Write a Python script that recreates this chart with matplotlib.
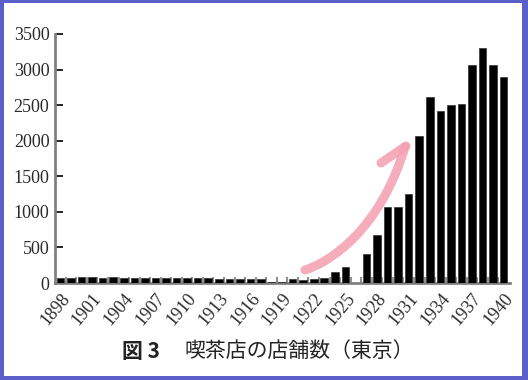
import matplotlib
matplotlib.use("Agg")
import matplotlib.pyplot as plt
from matplotlib.path import Path
from matplotlib.patches import PathPatch, Rectangle

years = list(range(1898, 1941))
counts = [70, 75, 80, 80, 70, 80, 75, 70, 70, 70,
          65, 65, 70, 70, 65, 55, 55, 55, 55, 50,
          15, 10, 50, 45, 52, 66, 159, 229, 0, 408,
          675, 1073, 1073, 1252, 2070, 2621, 2420, 2500, 2514, 3070,
          3302, 3070, 2889]
yticks = [0, 500, 1000, 1500, 2000, 2500, 3000, 3500]
title_fig = "図 3"
title_text = "喫茶店の店舗数（東京）"

W, H = 528, 380
fig = plt.figure(figsize=(W / 100, H / 100), dpi=100)
fig.patch.set_facecolor("#5b5fc9")
fig.add_artist(Rectangle((4 / W, 1 - 376 / H), (522 - 4) / W, (376 - 3) / H,
                         transform=fig.transFigure, facecolor="white",
                         edgecolor="none", zorder=0))

ax = fig.add_axes([55 / W, 1 - 283 / H, (510 - 55) / W, (283 - 34) / H])
ax.set_facecolor("none")
x = list(range(len(years)))
ax.bar(x, counts, width=0.72, color="black", edgecolor="#333333", linewidth=0.5, zorder=3)
ax.set_xlim(-0.52, 42.6)
ax.set_ylim(0, 3500)

for s in ["top", "right"]:
    ax.spines[s].set_visible(False)
for s in ["left", "bottom"]:
    ax.spines[s].set_color("#808080")
    ax.spines[s].set_linewidth(2)

serif = "Liberation Serif"
ax.set_yticks(yticks)
ax.set_yticklabels([str(v) for v in yticks], fontsize=13, family=serif, color="#2a2a2a")
ax.tick_params(axis="y", direction="in", length=6, width=1.2, color="black", pad=4)

ax.set_xticks(x[::3])
ax.set_xticklabels([str(y) for y in years[::3]], rotation=50, ha="right",
                   rotation_mode="anchor", fontsize=13, family=serif, color="#2a2a2a")
ax.tick_params(axis="x", which="major", length=0, pad=5)
ax.set_xticks([i + 0.5 for i in x[:-1]], minor=True)
ax.tick_params(axis="x", which="minor", direction="in", length=4, width=1.5, color="#909090")

# pink hand-drawn arrow
def fp(px, py):
    return (px / W, 1 - py / H)

verts = [fp(305, 270), fp(330, 262), fp(380, 230), fp(405, 147)]
path = Path(verts, [Path.MOVETO, Path.CURVE4, Path.CURVE4, Path.CURVE4])
fig.add_artist(PathPatch(path, transform=fig.transFigure, facecolor="none",
                         edgecolor="#f4a3b4", linewidth=6.5, capstyle="round",
                         alpha=0.9, zorder=5))
hook = Path([fp(406, 146), fp(381, 163)], [Path.MOVETO, Path.LINETO])
fig.add_artist(PathPatch(hook, transform=fig.transFigure, facecolor="none",
                         edgecolor="#f4a3b4", linewidth=6.5, capstyle="round",
                         alpha=0.9, zorder=5))

cjk = ["Noto Sans CJK JP", "DejaVu Sans"]
fig.text(122 / W, 1 - 351 / H, title_fig, family=cjk, fontsize=15, fontweight="bold",
         ha="left", va="center", color="#222222")
fig.text(184 / W, 1 - 351 / H, title_text, family=cjk, fontsize=15,
         ha="left", va="center", color="#222222")

fig.savefig("out.png", dpi=100)
